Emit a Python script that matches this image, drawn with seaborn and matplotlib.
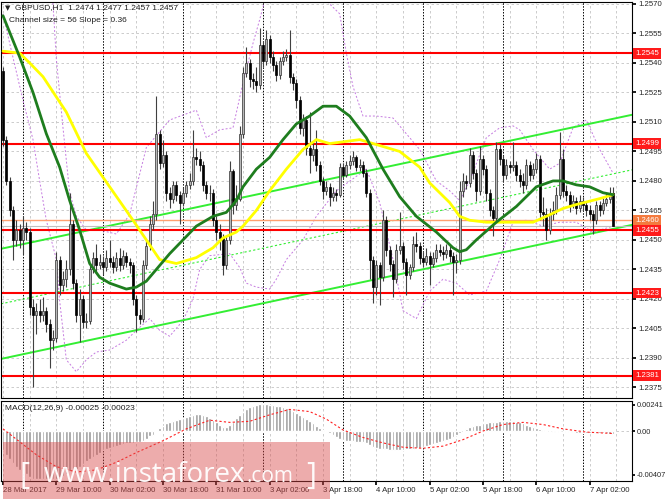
import numpy as np
import pandas as pd
import matplotlib
matplotlib.use("Agg")
import matplotlib.pyplot as plt
from matplotlib.patches import Rectangle
import seaborn as sns

# prices are stored as pips above 1.2400
BASE = 1.2400
first_open = 136
closes = [101, 80, 65, 50, 55, 50, 56, 54, 16, 12, 14, 12, 14, 7, -1, 0, 40, 27, 30, 35,
          58, 28, 12, 20, 8, 9, 35, 41, 37, 39, 36, 41, 39, 36, 41, 37, 42, 39, 37, 20,
          12, 10, 37, 47, 58, 63, 104, 89, 93, 74, 71, 78, 73, 69, 74, 78, 80, 92, 91, 88,
          78, 74, 74, 60, 54, 51, 37, 50, 85, 68, 71, 104, 135, 140, 132, 131, 129, 149, 141, 152,
          143, 139, 134, 141, 143, 144, 133, 130, 121, 107, 111, 97, 93, 96, 88, 80, 75, 77, 72, 74,
          73, 87, 83, 88, 90, 92, 87, 88, 84, 74, 40, 26, 37, 31, 60, 45, 38, 30, 45, 47,
          39, 32, 36, 48, 47, 41, 39, 42, 38, 41, 45, 44, 43, 45, 42, 39, 40, 75, 80, 79,
          93, 84, 75, 91, 86, 74, 65, 61, 96, 91, 83, 88, 87, 88, 83, 80, 78, 88, 83, 86,
          91, 64, 63, 55, 63, 65, 73, 91, 75, 73, 68, 70, 66, 70, 68, 65, 63, 60, 68, 65,
          69, 71, 74, 57]
highs = [138, 103, 82, 67, 60, 58, 62, 59, 56, 20, 18, 20, 21, 16, 10, 4, 44, 42, 34, 40,
         74, 60, 30, 25, 22, 13, 38, 44, 48, 43, 42, 45, 50, 42, 44, 46, 45, 44, 41, 39,
         22, 15, 40, 50, 62, 70, 123, 106, 101, 95, 77, 80, 80, 75, 77, 80, 84, 106, 97, 95,
         90, 80, 78, 76, 62, 58, 53, 52, 90, 86, 78, 108, 138, 148, 142, 135, 138, 158, 151, 157,
         154, 146, 141, 143, 146, 147, 157, 135, 132, 123, 114, 113, 115, 100, 106, 90, 82, 80, 79, 77,
         76, 89, 89, 90, 93, 95, 93, 91, 90, 86, 76, 42, 40, 39, 65, 62, 47, 40, 48, 64,
         49, 41, 38, 52, 54, 49, 44, 46, 44, 44, 48, 48, 47, 48, 47, 44, 43, 80, 84, 83,
         97, 95, 86, 98, 93, 88, 76, 67, 100, 99, 93, 91, 90, 100, 90, 86, 84, 91, 90, 89,
         94, 93, 72, 66, 66, 70, 77, 105, 96, 78, 75, 73, 72, 73, 72, 70, 68, 65, 70, 70,
         72, 74, 77, 77]
lows = [98, 78, 62, 40, 47, 46, 43, 50, 12, -25, 2, 8, 9, 3, -15, -6, -2, 22, 24, 26,
        32, 25, 8, -2, 5, 5, 7, 33, 34, 35, 32, 34, 36, 33, 34, 34, 35, 36, 33, 17,
        3, 7, 8, 35, 45, 55, 60, 86, 87, 70, 66, 69, 70, 58, 67, 72, 76, 78, 88, 85,
        75, 71, 70, 57, 50, 45, 32, 35, 48, 63, 65, 70, 102, 133, 128, 127, 125, 127, 138, 139,
        140, 136, 131, 132, 139, 141, 130, 126, 117, 104, 103, 93, 84, 90, 85, 78, 71, 73, 67, 70,
        70, 72, 81, 82, 86, 88, 85, 85, 82, 72, 30, 18, 22, 17, 29, 42, 34, 21, 28, 43,
        35, 22, 30, 34, 44, 38, 36, 37, 27, 36, 39, 42, 40, 41, 39, 22, 33, 38, 72, 76,
        77, 81, 70, 73, 83, 70, 62, 52, 59, 88, 80, 81, 84, 85, 80, 77, 74, 76, 80, 81,
        84, 60, 57, 50, 53, 60, 63, 71, 72, 70, 64, 66, 63, 64, 65, 62, 60, 53, 58, 62,
        63, 67, 69, 57]

# moving averages / envelopes (bar index, pips)
ma_slow_bar = [0, 5, 8, 12, 19, 25, 32, 39, 43, 47, 52, 58, 63, 66, 70, 72, 76, 80, 85, 90,
               94, 98, 107, 115, 119, 125, 128, 134, 137, 140, 145, 159, 163, 168, 172, 179, 183]
ma_slow_val = [146, 145, 140, 133, 115, 94, 77, 60, 50, 40, 38, 41, 46, 51, 54, 57, 65, 75, 86, 96,
               101, 99, 101, 97, 95, 87, 79, 69, 62, 60, 59, 59, 62, 66, 68, 71, 73]
ma_fast_bar = [0, 5, 9, 13, 17, 20, 23, 26, 29, 32, 37, 40, 43, 46, 50, 54, 58, 63, 67, 70,
               72, 76, 80, 84, 88, 92, 96, 100, 104, 109, 114, 119, 124, 130, 135, 137, 139, 142,
               148, 154, 160, 165, 168, 172, 176, 180, 183]
ma_fast_val = [164, 143, 125, 104, 87, 70, 55, 38, 31, 28, 25, 26, 29, 35, 43, 50, 57, 62, 64, 70,
               77, 86, 92, 101, 109, 113, 118, 118, 113, 102, 86, 72, 62, 54, 46, 44, 45, 50,
               59, 67, 77, 80, 80, 78, 77, 74, 73]
band_up_bar = [13, 15, 16, 18, 20, 22, 25, 29, 34, 38, 43, 50, 58, 61, 65, 69, 72, 75, 77, 79,
               86, 95, 101, 103, 105, 108, 112, 117, 121, 125, 130, 134, 137, 140, 145, 149, 153,
               155, 159, 164, 167, 171, 175, 179, 183]
band_up_val = [200, 170, 142, 107, 74, 62, 55, 55, 53, 63, 97, 111, 116, 102, 106, 107, 130, 150, 162, 175,
               185, 175, 165, 145, 128, 113, 113, 112, 104, 96, 80, 75, 70, 80, 102, 107, 108,
               106, 96, 86, 89, 107, 111, 96, 84]
band_lo_bar = [0, 2, 6, 9, 11, 13, 16, 17, 19, 22, 25, 28, 32, 37, 40, 44, 47, 50, 54, 57,
               59, 62, 68, 71, 73, 76, 80, 82, 85, 90, 94, 100, 109, 113, 117, 120, 124, 128,
               132, 136, 140, 145, 149, 153, 157, 162, 167, 172, 177, 183]
band_lo_val = [165, 150, 121, 101, 80, 60, 40, 19, -11, -17, -11, -7, -6, -1, 4, 10, 4, 1, 9, 20,
               35, 42, 43, 36, 28, 26, 25, 30, 40, 50, 62, 75, 86, 69, 40, 14, 10, 24,
               30, 28, 22, 24, 40, 59, 60, 57, 59, 59, 54, 57]

# linear regression channel, pips at bar 0 and per bar
channel_mid0 = 17.7
channel_slope = 0.36
channel_half = 28

# MACD histogram and signal, in units of 0.0001
macd_main = [-18, -22, -26, -30, -33, -36, -38, -40, -43, -44, -44, -44, -44, -44, -44,
             -44, -44, -43, -42, -40, -37, -36, -35, -33, -31, -28, -26, -24, -22, -20, -18, -17, -16,
             -15, -14, -13, -12, -11, -11, -11, -10, -10, -9, -7, -5, -4, 0, 3, 5, 7,
             8, 9, 10, 11, 12, 13, 14, 15, 16, 16, 15, 14, 12, 10, 8, 6, 4, 4, 6,
             8, 12, 15, 18, 20, 22, 23, 24, 25, 25, 25, 24, 24, 23, 23, 22, 21, 20, 19, 17, 15,
             13, 11, 9, 7, 5, 3, 1, 0, -2, -4, -6, -7, -8, -9, -9, -9, -10, -10,
             -10, -11, -13, -15, -16, -17, -17, -17, -18, -18, -18, -18, -18, -17, -17, -17, -16, -16,
             -15, -14, -13, -12, -11, -10, -9, -8, -7, -6, -4, -2, 0, 2, 4,
             5, 6, 6, 7, 7, 8, 8, 8, 9, 9, 9, 9, 9, 8, 8, 7, 6, 5, 4, 3, 2, 1, 0, 0, -1,
             -1, 0, 0, -1, -1, -1, -2, -2, -2, -2, -2, -2, -2, -2, -2, -2, -3, -2.5]
signal_bar = [0, 5, 10, 16, 22, 28, 34, 40, 48, 55, 62, 68, 74, 80, 86, 92, 97, 102, 108, 114,
              120, 126, 132, 138, 144, 150, 156, 162, 168, 175, 183]
signal_val = [2, -10, -22, -33, -38, -36, -29, -20, -9, 2, 10, 8, 9, 15, 20, 18, 11, 1, -6, -11,
              -15, -16, -14, -8, 0, 6, 8, 6, 2, -1, -2.3]

levels = [1.2545, 1.2499, 1.2455, 1.2423, 1.2381]
orange_level = 1.2460
last_price = 1.2457
price_ticks = [1.2375, 1.2390, 1.2405, 1.2420, 1.2435, 1.2450, 1.2465, 1.2480, 1.2495,
               1.2510, 1.2525, 1.2540, 1.2555, 1.2570]
time_labels = ["28 Mar 2017", "29 Mar 10:00", "30 Mar 02:00", "30 Mar 18:00", "31 Mar 10:00",
               "3 Apr 02:00", "3 Apr 18:00", "4 Apr 10:00", "5 Apr 02:00", "5 Apr 18:00",
               "6 Apr 10:00", "7 Apr 02:00"]
day_breaks = [6, 30, 54, 78, 102, 126, 150, 174]

n = len(closes)
df = pd.DataFrame({"bar": np.arange(n),
                   "open": BASE + np.array([first_open] + closes[:-1]) / 1e4,
                   "close": BASE + np.array(closes) / 1e4,
                   "high": BASE + np.array(highs) / 1e4,
                   "low": BASE + np.array(lows) / 1e4,
                   "macd": np.array(macd_main) / 1e4})

sns.set_theme(style="white")
plt.rcParams["font.family"] = ["Liberation Sans", "DejaVu Sans"]

W, H = 665, 499
FS = 5.6
fig = plt.figure(figsize=(W / 100, H / 100), dpi=100)


def px_axes(x0, y0, x1, y1):
    return fig.add_axes([x0 / W, 1 - y1 / H, (x1 - x0) / W, (y1 - y0) / H])


ax = px_axes(1, 2, 632, 398)
mx = px_axes(1, 401, 632, 481)
XL = (-0.6, 188.7)

for a in (ax, mx):
    a.set_xlim(*XL)
    a.set_facecolor("white")
    for s in a.spines.values():
        s.set_color("black")
        s.set_linewidth(0.8)
    for b in range(0, 190, 8):
        a.axvline(b, color="#c4c4c4", lw=0.6, ls=(0, (3, 3)), zorder=0)
    for b in day_breaks:
        a.axvline(b, color="black", lw=0.7, ls=(0, (1.5, 1.5)), zorder=0.5)

# ---- price pane ----
ax.set_ylim(1.23696, 1.25710)
for t in price_ticks:
    ax.axhline(t, color="#c4c4c4", lw=0.6, ls=(0, (3, 3)), zorder=0)

# regression channel
cx = np.array(XL)
mid = BASE + (channel_mid0 + channel_slope * cx) / 1e4
ax.plot(cx, mid + channel_half / 1e4, color="#33ee33", lw=1.4, zorder=2)
ax.plot(cx, mid - channel_half / 1e4, color="#33ee33", lw=1.4, zorder=2)
ax.plot(cx, mid, color="#33ee33", lw=0.8, ls=(0, (2, 2)), zorder=2)

# envelopes
band_style = dict(color="#c57be0", lw=0.7, ls=(0, (2, 2)), zorder=1)
sns.lineplot(x=band_up_bar, y=BASE + np.array(band_up_val) / 1e4, ax=ax, **band_style)
sns.lineplot(x=band_lo_bar, y=BASE + np.array(band_lo_val) / 1e4, ax=ax, **band_style)

# levels
for lv in levels:
    ax.axhline(lv, color="#ff0000", lw=1.5, zorder=2.5)
ax.axhline(orange_level, color="#ffa070", lw=1.0, zorder=2.5)
ax.axhline(last_price, color="#c0c0c0", lw=0.8, zorder=2.4)

# candles
up = df["close"] >= df["open"]
ax.vlines(df["bar"], df["low"], df["high"], color="#404040", lw=0.8, zorder=3)
ax.bar(df["bar"][up], (df["close"] - df["open"])[up], bottom=df["open"][up], width=0.62,
       color="#b8b8b8", edgecolor="#303030", linewidth=0.5, zorder=4)
ax.bar(df["bar"][~up], (df["close"] - df["open"])[~up], bottom=df["open"][~up], width=0.62,
       color="black", edgecolor="black", linewidth=0.5, zorder=4)

# moving averages
sns.lineplot(x=ma_slow_bar, y=BASE + np.array(ma_slow_val) / 1e4, ax=ax, color="#ffff00", lw=2.0, zorder=5)
sns.lineplot(x=ma_fast_bar, y=BASE + np.array(ma_fast_val) / 1e4, ax=ax, color="#1e7d1e", lw=2.0, zorder=5)

ax.yaxis.tick_right()
ax.set_yticks(price_ticks)
ax.set_yticklabels([f"{t:.4f}" for t in price_ticks])
ax.set_xticks([])
ax.tick_params(axis="y", labelsize=FS, length=3, pad=1.5, direction="out", color="black", right=True)
ax.set_xlabel("")
ax.set_ylabel("")


def price_box(a, y, text, fc, z=10):
    a.text(1.0 + 3 / 631, y, text, transform=a.get_yaxis_transform(), ha="left", va="center",
           fontsize=FS, color="white", zorder=z, clip_on=False,
           bbox=dict(boxstyle="square,pad=0.25", fc=fc, ec="none"))


price_box(ax, last_price, f"{last_price:.4f}", "black", z=9)
price_box(ax, orange_level, f"{orange_level:.4f}", "#f47a3e", z=10)
for lv in levels:
    price_box(ax, lv, f"{lv:.4f}", "#ff1a1a", z=11)

ax.text(4 / 631, 1 - 6 / 396, "\u25bc", transform=ax.transAxes, fontsize=5, va="center",
        family=["DejaVu Sans"], color="#202020")
ax.text(14 / 631, 1 - 6 / 396, "GBPUSD,H1  1.2474 1.2477 1.2457 1.2457", transform=ax.transAxes,
        fontsize=6, va="center", color="#202020")
ax.text(8 / 631, 1 - 18 / 396, "Channel size = 56 Slope = 0.36", transform=ax.transAxes,
        fontsize=6, va="center", color="#202020")

# ---- MACD pane ----
mx.set_ylim(-0.00463, 0.00278)
mx.axhline(0, color="#c4c4c4", lw=0.6, ls=(0, (3, 3)), zorder=0)
mx.bar(df["bar"], df["macd"], width=0.75, color="#9a9a9a", zorder=2)
sns.lineplot(x=signal_bar, y=np.array(signal_val) / 1e4, ax=mx, color="#ff2020", lw=0.8,
             ls=(0, (2, 2)), zorder=3)
mx.yaxis.tick_right()
mx.set_yticks([0.00241, 0.0, -0.00407])
mx.set_yticklabels(["0.00241", "0.00", "-0.00407"])
mx.set_xticks(list(range(0, 16 * len(time_labels), 16)))
mx.set_xticklabels(time_labels, ha="left")
mx.tick_params(axis="x", labelsize=FS, length=3, pad=1.5, direction="out", color="black", bottom=True)
mx.tick_params(axis="y", labelsize=5.3, length=2.5, pad=1, direction="out", color="black", right=True)
mx.set_xlabel("")
mx.set_ylabel("")
mx.text(4 / 631, 1 - 7 / 80, "MACD(12,26,9) -0.00025 -0.00023", transform=mx.transAxes,
        fontsize=6, va="center", color="#202020")

# ---- watermark ----
fig.add_artist(Rectangle((3 / W, 0), 327 / W, 57 / H, transform=fig.transFigure,
                         fc="#d84848", ec="none", alpha=0.45, zorder=20))
wm = dict(color="white", alpha=0.95, zorder=21, family=["Open Sans", "DejaVu Sans"], va="baseline")
fig.text(19 / W, 1 - 484 / H, "[", fontsize=22, **wm)
main_txt = fig.text(44 / W, 1 - 482 / H, "www.instaforex", fontsize=20, **wm)
rend = fig.canvas.get_renderer()
bb = main_txt.get_window_extent(renderer=rend)
fig.text(bb.x1 / W + 1 / W, 1 - 482 / H, ".com", fontsize=15, **wm)
fig.text(306 / W, 1 - 484 / H, "]", fontsize=22, **wm)

fig.savefig("out.png", dpi=100)
